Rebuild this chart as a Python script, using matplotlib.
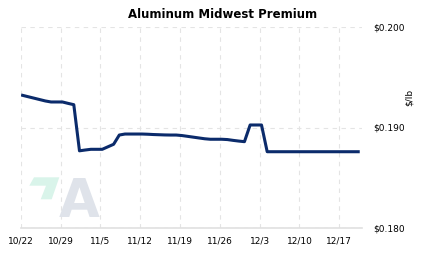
import matplotlib
matplotlib.use("Agg")
import matplotlib.pyplot as plt
import matplotlib.dates as mdates
from matplotlib.patches import Polygon
import pandas as pd

title = "Aluminum Midwest Premium"
unit_label = "$/lb"
start_date = "2018-10-22"
values = [
    0.19320, 0.19306, 0.19292, 0.19278, 0.19264, 0.19254, 0.19254, 0.19254,
    0.19240, 0.19227, 0.18768, 0.18776, 0.18783, 0.18783, 0.18783, 0.18808,
    0.18833, 0.18925, 0.18935, 0.18935, 0.18935, 0.18935, 0.18933, 0.18930,
    0.18928, 0.18926, 0.18925, 0.18925, 0.18920, 0.18912, 0.18904, 0.18896,
    0.18888, 0.18883, 0.18883, 0.18883, 0.18880, 0.18872, 0.18865, 0.18859,
    0.19025, 0.19025, 0.19025, 0.18759, 0.18759, 0.18759, 0.18759, 0.18759,
    0.18759, 0.18759, 0.18759, 0.18759, 0.18759, 0.18759, 0.18759, 0.18759,
    0.18759, 0.18759, 0.18759, 0.18759,
]
dates = pd.date_range(start_date, periods=len(values), freq="D")
tick_dates = ["2018-10-22", "2018-10-29", "2018-11-05", "2018-11-12", "2018-11-19",
              "2018-11-26", "2018-12-03", "2018-12-10", "2018-12-17"]
tick_labels = ["10/22", "10/29", "11/5", "11/12", "11/19", "11/26", "12/3", "12/10", "12/17"]
y_ticks = [0.180, 0.190, 0.200]
y_labels = ["$0.180", "$0.190", "$0.200"]

W, H = 423, 257
fig = plt.figure(figsize=(W / 100, H / 100), dpi=100)
fig.patch.set_facecolor("white")

def px(x, y):
    return (x / W, 1 - y / H)

# watermark logo
green = Polygon([px(34, 177.3), px(59.3, 177.3), px(51.7, 199.3), px(40.7, 199.3),
                 px(46, 185.7), px(29.3, 185.7)], closed=True,
                transform=fig.transFigure, facecolor="#d9f4ea", edgecolor="none", zorder=0)
fig.patches.append(green)
fig.text(79 / W, 1 - 217 / H, "A", fontsize=38, fontweight="bold", color="#dfe3ea",
         ha="center", va="baseline", zorder=0)

left, right, top, bottom = 20.7, 362, 27, 228
ax = fig.add_axes([left / W, 1 - bottom / H, (right - left) / W, (bottom - top) / H])
ax.patch.set_alpha(0)

ax.plot(dates + pd.Timedelta(hours=8), values, color="#0b2b6b", lw=2.2,
        solid_joinstyle="round", zorder=3)

ax.set_xlim(pd.Timestamp("2018-10-22"), pd.Timestamp("2018-12-21"))
ax.set_ylim(0.180, 0.200)
ax.set_xticks(pd.to_datetime(tick_dates))
ax.set_xticklabels(tick_labels)
ax.set_yticks(y_ticks)
ax.set_yticklabels(y_labels)
ax.yaxis.tick_right()
ax.tick_params(axis="both", length=0, labelsize=6.5, colors="#000000")
ax.tick_params(axis="x", pad=6)
ax.tick_params(axis="y", pad=8)
for lab in ax.get_yticklabels():
    lab.set_horizontalalignment("left")

ax.grid(True, color="#e4e4e4", lw=0.8, ls=(0, (4, 4)))
for s in ["top", "right", "left"]:
    ax.spines[s].set_visible(False)
ax.spines["bottom"].set_color("#e0e0e0")
ax.spines["bottom"].set_linewidth(1.2)

fig.text(223 / W, 1 - 14 / H, title, fontsize=8.5, fontweight="bold",
         ha="center", va="center")
fig.text(409 / W, 1 - 97 / H, unit_label, fontsize=6.5, rotation=90,
         ha="center", va="center")

fig.savefig("out.png", dpi=100, facecolor="white")
